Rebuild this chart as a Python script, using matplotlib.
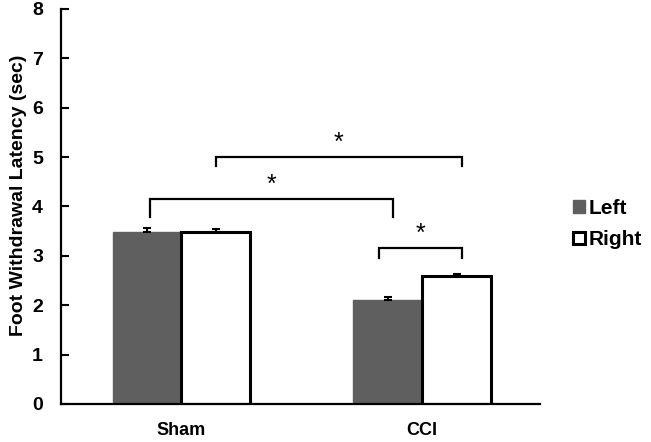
import matplotlib
matplotlib.use("Agg")
import matplotlib.pyplot as plt
import numpy as np

plt.rcParams['font.family'] = ['Liberation Sans', 'DejaVu Sans']

groups = ["Sham", "CCI"]
left_vals = [3.48, 2.10]
left_err = [0.08, 0.07]
right_vals = [3.48, 2.60]
right_err = [0.06, 0.04]
y_ticks = [0, 1, 2, 3, 4, 5, 6, 7, 8]

# brackets: (x1, x2, y_top, y_leg_bottom)
brackets = [
    (-0.13, 0.88, 4.14, 3.78),
    (0.143, 1.166, 5.00, 4.82),
    (0.82, 1.166, 3.15, 2.96),
]

fig = plt.figure(figsize=(6.51, 4.42), dpi=100)
ax = fig.add_axes([0.0937, 0.086, 0.736, 0.894])

x = np.arange(len(groups))
w = 0.286
ax.bar(x - w / 2, left_vals, w, color='#5f5f5f', edgecolor='#5f5f5f', linewidth=1,
       yerr=[np.zeros(2), left_err], error_kw=dict(ecolor='black', capsize=3, elinewidth=1.5, capthick=1.5),
       label='Left', zorder=2)
ax.bar(x + w / 2, right_vals, w, color='white', edgecolor='black', linewidth=2.2,
       yerr=[np.zeros(2), right_err], error_kw=dict(ecolor='black', capsize=3, elinewidth=1.5, capthick=1.5),
       label='Right', zorder=2)

for x1, x2, yt, yb in brackets:
    ax.plot([x1, x1, x2, x2], [yb, yt, yt, yb], color='black', lw=1.6, solid_joinstyle='miter', zorder=3)
    ax.text((x1 + x2) / 2, yt + 0.05, '*', ha='center', va='bottom', fontsize=18, zorder=3)

ax.set_xlim(-0.5, 1.49)
ax.set_ylim(0, 8)
ax.set_yticks(y_ticks)
ax.set_yticklabels([str(t) for t in y_ticks], fontsize=14, fontweight='bold')
ax.set_xticks(x)
ax.set_xticklabels(groups, fontsize=13, fontweight='bold')
ax.tick_params(axis='x', length=0, pad=13)
ax.tick_params(axis='y', direction='in', length=6, width=1.5, pad=13)
ax.set_ylabel('Foot Withdrawal Latency (sec)', fontsize=14, fontweight='bold')
ax.yaxis.set_label_coords(-0.071, 0.527)

for s in ['top', 'right']:
    ax.spines[s].set_visible(False)
for s in ['left', 'bottom']:
    ax.spines[s].set_linewidth(1.6)

leg = ax.legend(loc='center left', bbox_to_anchor=(1.03, 0.455), frameon=False,
                prop=dict(size=15, weight='bold'), handlelength=0.55, handleheight=0.55,
                handletextpad=0.2, labelspacing=0.6)

fig.savefig('out.png', dpi=100)
